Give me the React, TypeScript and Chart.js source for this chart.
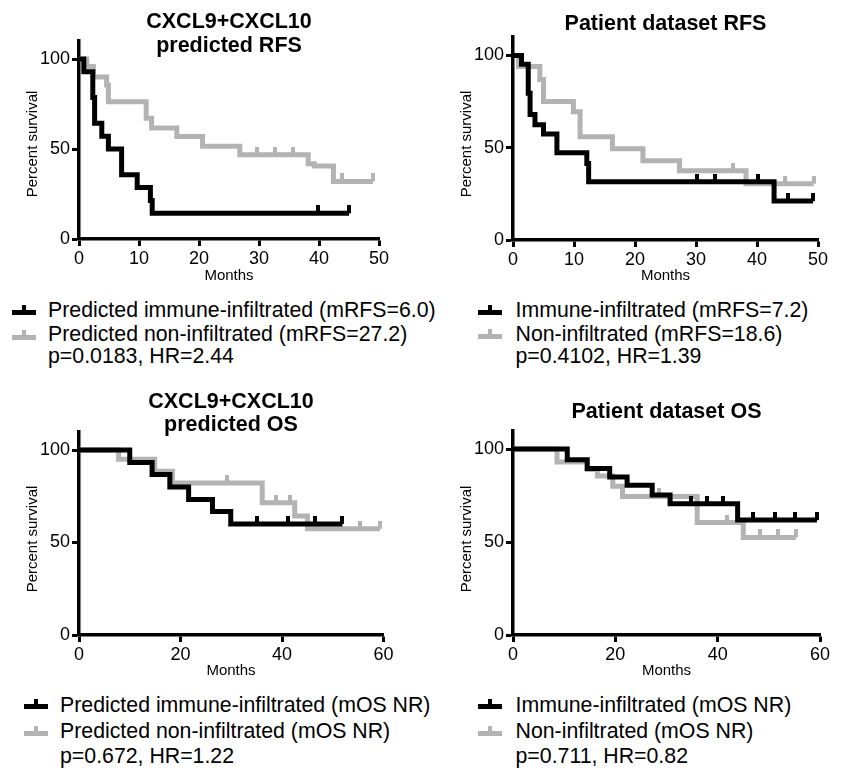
import React, { useEffect, useRef } from 'react';
import { Chart, registerables } from 'chart.js';
Chart.register(...registerables);

// ---------------- DATA ----------------
// Panel 1: CXCL9+CXCL10 predicted RFS
const p1ImmuneTimes = [0, 0.8, 2.3, 2.6, 3.8, 4.9, 7.1, 9.7, 11.9, 12.2, 45];
const p1ImmuneSurv = [100, 92.9, 78.6, 64.3, 57.1, 50, 35.7, 28.6, 21.4, 14.3, 14.3];
const p1ImmuneCens = [39.8, 45];
const p1NonTimes = [0, 1.3, 2.4, 4.6, 4.9, 11.2, 12.1, 16.3, 20.6, 26.8, 38.2, 39.2, 42.4, 49];
const p1NonSurv = [100, 95.8, 90, 85.6, 76.3, 67.1, 61.7, 57, 51.5, 46.8, 41.8, 40.5, 32, 32];
const p1NonCens = [29.7, 32.7, 35.7, 43.8, 49];

// Panel 2: Patient dataset RFS
const p2ImmuneTimes = [0, 1.4, 2.5, 2.8, 3.6, 5.0, 7.2, 12.1, 12.4, 42.8, 49.2];
const p2ImmuneSurv = [100, 95.3, 79.5, 68, 62.5, 57.5, 47.3, 41.5, 31.6, 21.1, 21.1];
const p2ImmuneCens = [30.1, 33.1, 40.1, 45.1, 49.2];
const p2NonTimes = [0, 0.9, 4.4, 5.0, 9.9, 11.0, 16.3, 21.3, 27.3, 38.2, 49.3];
const p2NonSurv = [100, 94, 87, 75, 69.5, 56, 49.5, 43, 37.5, 30.5, 30.5];
const p2NonCens = [36.1, 44.6, 49.3];

// Panel 3: CXCL9+CXCL10 predicted OS
const p3ImmuneTimes = [0, 10, 14.4, 17.9, 21.6, 26.3, 29.9, 51.9];
const p3ImmuneSurv = [100, 93.3, 86.7, 80, 73.3, 66.7, 60, 60];
const p3ImmuneCens = [35, 41.2, 46.5, 51.9];
const p3NonTimes = [0, 7.8, 14.9, 18.4, 36.1, 42.5, 45, 59.3];
const p3NonSurv = [100, 95, 88.5, 82.2, 71.5, 64.3, 57.4, 57.4];
const p3NonCens = [29.2, 38.9, 41.6, 55.4, 59.3];

// Panel 4: Patient dataset OS
const p4ImmuneTimes = [0, 10.6, 14.5, 18.9, 22.3, 27.2, 30.7, 43.9, 59.4];
const p4ImmuneSurv = [100, 94.3, 89.6, 85, 80.5, 75.3, 70.6, 61.8, 61.8];
const p4ImmuneCens = [34.7, 38, 41.1, 47, 51.2, 55.1, 59.4];
const p4NonTimes = [0, 8.6, 14.5, 16.5, 19.5, 21.4, 36, 45, 55.3];
const p4NonSurv = [100, 93, 89, 85.5, 80, 74.5, 60.5, 52.5, 52.5];
const p4NonCens = [28.6, 41.8, 48.3, 51.8, 55.3];

// ticks
const yTickValues = [0, 50, 100];
const rfsXTicks = [0, 10, 20, 30, 40, 50];
const osXTicks = [0, 20, 40, 60];

// texts
const p1Title = ['CXCL9+CXCL10', 'predicted RFS'];
const p2Title = ['Patient dataset RFS'];
const p3Title = ['CXCL9+CXCL10', 'predicted OS'];
const p4Title = ['Patient dataset OS'];
const p1Legend = ['Predicted immune-infiltrated (mRFS=6.0)', 'Predicted non-infiltrated (mRFS=27.2)', 'p=0.0183, HR=2.44'];
const p2Legend = ['Immune-infiltrated (mRFS=7.2)', 'Non-infiltrated (mRFS=18.6)', 'p=0.4102, HR=1.39'];
const p3Legend = ['Predicted immune-infiltrated (mOS NR)', 'Predicted non-infiltrated (mOS NR)', 'p=0.672, HR=1.22'];
const p4Legend = ['Immune-infiltrated (mOS NR)', 'Non-infiltrated (mOS NR)', 'p=0.711, HR=0.82'];
const yTitle = 'Percent survival';
const xTitle = 'Months';

// ---------------- STYLE ----------------
const FONT = '"Liberation Sans", Arial, Helvetica, sans-serif';
const BLACK = '#000000';
const GRAY = '#b3b3b3';
const LINE_W = 5;
const AXIS_W = 3.5;

type Series = { times: number[]; surv: number[]; cens: number[] };
type PanelCfg = {
  left: number; top: number; w: number; h: number;
  padT: number; padR: number; yW: number; xH: number;
  xMax: number; xTicks: number[];
  immune: Series; non: Series;
};

const panels: PanelCfg[] = [
  { left: 0, top: 20, w: 400, h: 270, padT: 21, padR: 21, yW: 79, xH: 51, xMax: 50, xTicks: rfsXTicks,
    immune: { times: p1ImmuneTimes, surv: p1ImmuneSurv, cens: p1ImmuneCens },
    non: { times: p1NonTimes, surv: p1NonSurv, cens: p1NonCens } },
  { left: 430, top: 20, w: 416, h: 270, padT: 17, padR: 28, yW: 83, xH: 50, xMax: 50, xTicks: rfsXTicks,
    immune: { times: p2ImmuneTimes, surv: p2ImmuneSurv, cens: p2ImmuneCens },
    non: { times: p2NonTimes, surv: p2NonSurv, cens: p2NonCens } },
  { left: 0, top: 410, w: 400, h: 270, padT: 21.5, padR: 16.5, yW: 79, xH: 45, xMax: 60, xTicks: osXTicks,
    immune: { times: p3ImmuneTimes, surv: p3ImmuneSurv, cens: p3ImmuneCens },
    non: { times: p3NonTimes, surv: p3NonSurv, cens: p3NonCens } },
  { left: 430, top: 410, w: 416, h: 270, padT: 20.5, padR: 26, yW: 83, xH: 45, xMax: 60, xTicks: osXTicks,
    immune: { times: p4ImmuneTimes, surv: p4ImmuneSurv, cens: p4ImmuneCens },
    non: { times: p4NonTimes, surv: p4NonSurv, cens: p4NonCens } },
];

function survAt(s: Series, t: number) {
  let v = s.surv[0];
  for (let i = 0; i < s.times.length; i++) if (s.times[i] <= t) v = s.surv[i];
  return v;
}

function tickImage(color: string) {
  const c = document.createElement('canvas');
  c.width = 4;
  c.height = 16;
  const g = c.getContext('2d')!;
  g.fillStyle = color;
  g.fillRect(0, 0, 4, 8);
  return c;
}

function KMPanel({ cfg }: { cfg: PanelCfg }) {
  const ref = useRef<HTMLCanvasElement>(null);
  useEffect(() => {
    if (!ref.current) return;
    const lineDs = (s: Series, color: string, order: number) => ({
      data: s.times.map((t, i) => ({ x: t, y: s.surv[i] })),
      borderColor: color,
      backgroundColor: color,
      borderWidth: LINE_W,
      stepped: 'before' as const,
      pointRadius: 0,
      fill: false,
      borderJoinStyle: 'miter' as const,
      borderCapStyle: 'butt' as const,
      order,
    });
    const censDs = (s: Series, color: string, order: number) => ({
      data: s.cens.map((t) => ({ x: t, y: survAt(s, t) })),
      showLine: false,
      pointStyle: tickImage(color),
      pointRadius: 4,
      pointHoverRadius: 4,
      borderColor: color,
      backgroundColor: color,
      order,
    });
    const tickFont = { family: FONT, size: 18 };
    const chart = new Chart(ref.current, {
      type: 'line',
      data: {
        datasets: [
          lineDs(cfg.immune, BLACK, 0),
          censDs(cfg.immune, BLACK, 0),
          lineDs(cfg.non, GRAY, 1),
          censDs(cfg.non, GRAY, 1),
        ] as any,
      },
      options: {
        responsive: false,
        animation: false,
        devicePixelRatio: 1,
        events: [],
        layout: { padding: { left: 0, top: cfg.padT, right: cfg.padR, bottom: 0 } },
        plugins: { legend: { display: false }, tooltip: { enabled: false }, title: { display: false } },
        scales: {
          x: {
            type: 'linear',
            min: 0,
            max: cfg.xMax,
            afterBuildTicks: (s: any) => { s.ticks = cfg.xTicks.map((v) => ({ value: v })); },
            afterFit: (s: any) => { s.height = cfg.xH; },
            ticks: { font: tickFont, color: BLACK, padding: 2, maxRotation: 0, autoSkip: false },
            grid: { drawOnChartArea: false, drawTicks: true, tickLength: 7, tickWidth: 3, tickColor: BLACK, color: BLACK },
            border: { display: true, color: BLACK, width: AXIS_W },
          },
          y: {
            type: 'linear',
            min: 0,
            max: 110,
            afterBuildTicks: (s: any) => { s.ticks = yTickValues.map((v) => ({ value: v })); },
            afterFit: (s: any) => { s.width = cfg.yW; },
            ticks: { font: tickFont, color: BLACK, padding: 2, autoSkip: false },
            grid: { drawOnChartArea: false, drawTicks: true, tickLength: 7, tickWidth: 3, tickColor: BLACK, color: BLACK },
            border: { display: true, color: BLACK, width: AXIS_W },
          },
        },
      } as any,
    });
    return () => chart.destroy();
  }, [cfg]);
  return (
    <canvas
      ref={ref}
      width={cfg.w}
      height={cfg.h}
      style={{ position: 'absolute', left: cfg.left, top: cfg.top, width: cfg.w, height: cfg.h }}
    />
  );
}

function Txt({ x, y, size, bold, center, rotate, children }: any) {
  return (
    <div
      style={{
        position: 'absolute',
        left: x,
        top: y,
        fontSize: size,
        fontWeight: bold ? 700 : 400,
        lineHeight: 1,
        whiteSpace: 'nowrap',
        transform: rotate
          ? 'translate(-50%, -50%) rotate(-90deg)'
          : center
          ? 'translate(-50%, -50%)'
          : 'translate(0, -50%)',
      }}
    >
      {children}
    </div>
  );
}

function Sym({ x, y, color }: { x: number; y: number; color: string }) {
  return (
    <div style={{ position: 'absolute', left: x, top: y - 2.5, width: 24, height: 5, background: color }}>
      <div style={{ position: 'absolute', left: 10, top: -5, width: 4, height: 6, background: color }} />
    </div>
  );
}

type TextLayout = {
  titles: { x: number; ys: number[] };
  yTitle: { x: number; y: number };
  xTitle: { x: number; y: number };
  legend: { symX: number; textX: number; ys: number[]; symYs: number[] };
};

const textLayouts: TextLayout[] = [
  { titles: { x: 229, ys: [22, 45.5] }, yTitle: { x: 31, y: 144 }, xTitle: { x: 229, y: 273.5 },
    legend: { symX: 12, textX: 48, ys: [311, 335, 356.5], symYs: [312.5, 337] } },
  { titles: { x: 665.5, ys: [24] }, yTitle: { x: 465, y: 144 }, xTitle: { x: 665.5, y: 273.5 },
    legend: { symX: 478, textX: 515.5, ys: [311, 335, 356.5], symYs: [312, 336.5] } },
  { titles: { x: 231, ys: [402, 425] }, yTitle: { x: 31, y: 539 }, xTitle: { x: 231, y: 668.5 },
    legend: { symX: 23.5, textX: 60, ys: [705.8, 731.5, 757], symYs: [706.5, 733] } },
  { titles: { x: 666.5, ys: [412] }, yTitle: { x: 465, y: 539 }, xTitle: { x: 666.5, y: 668.5 },
    legend: { symX: 478, textX: 515.5, ys: [705.8, 731.5, 757], symYs: [706.5, 733] } },
];

const panelTitles = [p1Title, p2Title, p3Title, p4Title];
const panelLegends = [p1Legend, p2Legend, p3Legend, p4Legend];

export default function App() {
  return (
    <div
      style={{
        position: 'absolute',
        left: 0,
        top: 0,
        width: 846,
        height: 771,
        background: '#ffffff',
        fontFamily: FONT,
        color: '#000',
        overflow: 'hidden',
      }}
    >
      {panels.map((p, i) => (
        <KMPanel key={'c' + i} cfg={p} />
      ))}
      {textLayouts.map((L, i) => (
        <React.Fragment key={'t' + i}>
          {panelTitles[i].map((t, j) => (
            <Txt key={'ti' + j} x={L.titles.x} y={L.titles.ys[j]} size={21.5} bold center>
              {t}
            </Txt>
          ))}
          <Txt x={L.yTitle.x} y={L.yTitle.y} size={15} rotate>
            {yTitle}
          </Txt>
          <Txt x={L.xTitle.x} y={L.xTitle.y} size={15} center>
            {xTitle}
          </Txt>
          <Sym x={L.legend.symX} y={L.legend.symYs[0]} color={BLACK} />
          <Sym x={L.legend.symX} y={L.legend.symYs[1]} color={GRAY} />
          {panelLegends[i].map((t, j) => (
            <Txt key={'lg' + j} x={L.legend.textX} y={L.legend.ys[j]} size={21.3}>
              {t}
            </Txt>
          ))}
        </React.Fragment>
      ))}
    </div>
  );
}
